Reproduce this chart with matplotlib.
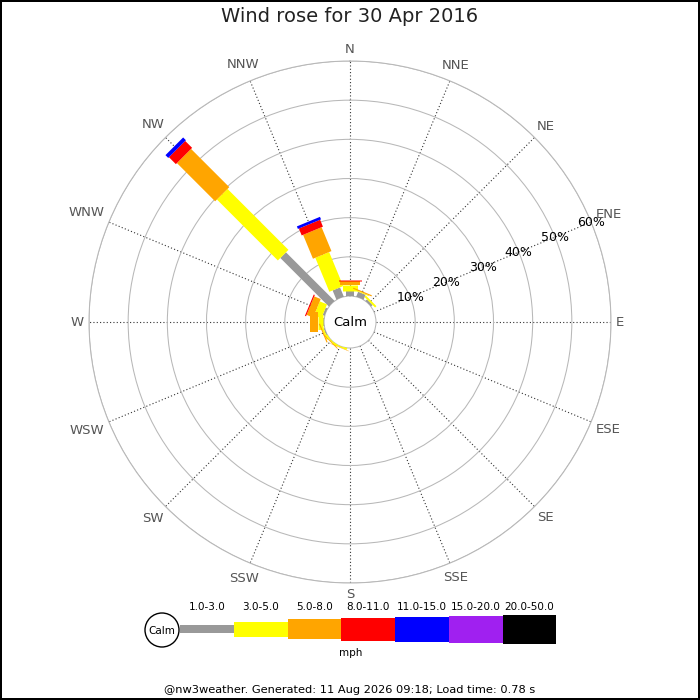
import numpy as np
import matplotlib
matplotlib.use('Agg')
import matplotlib.pyplot as plt
from matplotlib.patches import Circle

# ---------------- data ----------------
directions = ['N', 'NNE', 'NE', 'ENE', 'E', 'ESE', 'SE', 'SSE',
              'S', 'SSW', 'SW', 'WSW', 'W', 'WNW', 'NW', 'NNW']
speed_bins = ['1.0-3.0', '3.0-5.0', '5.0-8.0', '8.0-11.0',
              '11.0-15.0', '15.0-20.0', '20.0-50.0']
# percentage of time per direction, per speed bin (mph)
pct_1_3   = [1.35, 1.3, 0.5, 0, 0, 0, 0, 0, 0, 0,   0,   0.2, 0.3, 0.5, 17.5, 2.5]
pct_3_5   = [1.45, 0.2, 0.5, 0, 0, 0, 0, 0, 0, 0.3, 0.3, 0.4, 1.2, 2.0, 22.0, 9.4]
pct_5_8   = [1.0,  0.3, 0,   0, 0, 0, 0, 0, 0, 0.1, 0.2, 0.3, 2.1, 1.8, 13.8, 6.6]
pct_8_11  = [0.3,  0,   0,   0, 0, 0, 0, 0, 0, 0,   0,   0,   0,   0.3, 2.5,  1.9]
pct_11_15 = [0,    0,   0,   0, 0, 0, 0, 0, 0, 0,   0,   0,   0,   0,   1.0,  0.7]
pct_15_20 = [0] * 16
pct_20_50 = [0] * 16
ring_ticks = [10, 20, 30, 40, 50, 60]
title = 'Wind rose for 30 Apr 2016'
footer = '@nw3weather. Generated: 11 Aug 2026 09:18; Load time: 0.78 s'

series = [pct_1_3, pct_3_5, pct_5_8, pct_8_11, pct_11_15, pct_15_20, pct_20_50]
colors = ['#999999', '#ffff00', '#ffa500', '#ff0000', '#0000ff', '#a020f0', '#000000']
bar_px = [8, 15, 20, 23, 25, 27, 29]

# ---------------- figure ----------------
W = H = 700
fig = plt.figure(figsize=(7, 7), dpi=100, facecolor='white',
                 edgecolor='black', linewidth=1.5)
R = 261.0          # outer ring radius (px)
R0 = 26.0          # calm circle radius (px)
cx, cy = 350.0, 700 - 322.0
ax = fig.add_axes([(cx - R) / W, (cy - R) / H, 2 * R / W, 2 * R / H],
                  projection='polar')
ax.set_theta_zero_location('N')
ax.set_theta_direction(-1)
rmax = ring_ticks[-1]
rorigin = -rmax * R0 / (R - R0)
ax.set_ylim(0, rmax)
ax.set_rorigin(rorigin)

theta = np.deg2rad(np.arange(len(directions)) * 22.5)
ax.set_thetagrids(np.rad2deg(theta), labels=[''] * len(directions))
ax.set_rgrids(ring_ticks, labels=[''] * len(ring_ticks))
ax.xaxis.grid(True, linestyle=(0, (1, 2)), color='#333333', linewidth=0.8)
ax.yaxis.grid(True, linestyle='-', color='#b8b8b8', linewidth=0.75)
ax.tick_params(axis='both', length=0)
for s in ['polar', 'inner']:
    ax.spines[s].set_color('#b8b8b8')
    ax.spines[s].set_linewidth(0.75)

# stacked bars (rectangles of constant pixel width)
cum = np.zeros(len(directions))
for k, (vals, col, w) in enumerate(zip(series, colors, bar_px)):
    vals = np.asarray(vals, dtype=float)
    for i in range(len(directions)):
        if vals[i] <= 0:
            continue
        start = cum[i] if cum[i] > 0 else rorigin
        ax.plot([theta[i], theta[i]], [start, cum[i] + vals[i]],
                color=col, linewidth=w * 0.72, solid_capstyle='butt',
                zorder=3)
    cum += vals

# ring labels along ENE
ene = theta[directions.index('ENE')]
for r in ring_ticks:
    ax.text(ene, r, f'{r}%', ha='center', va='center', fontsize=9,
            color='black', zorder=6)

ax.text(0, rorigin, 'Calm', ha='center', va='center', fontsize=9.5,
        color='black', zorder=7)

# direction labels just outside the outer ring
fig.canvas.draw()
renderer = fig.canvas.get_renderer()
C = ax.transData.transform((0, rorigin))
for th, lab in zip(theta, directions):
    P = ax.transData.transform((th, rmax))
    u = (P - C) / np.hypot(*(P - C))
    t = fig.text(0, 0, lab, ha='center', va='center', fontsize=9.5,
                 color='#555555')
    bb = t.get_window_extent(renderer)
    ext = abs(u[0]) * bb.width / 2 + abs(u[1]) * bb.height / 2
    pos = P + u * (5 + ext)
    t.set_position(fig.transFigure.inverted().transform(pos))

# title & footer
fig.text(0.5, 1 - 17 / H, title, ha='center', va='center', fontsize=14,
         color='#222222')
fig.text(0.5, 1 - 690 / H, footer, ha='center', va='center', fontsize=8.2,
         color='black')

# ---------------- legend ----------------
lg = fig.add_axes([0, 0, 1, 1])
lg.set_xlim(0, W)
lg.set_ylim(H, 0)
lg.axis('off')
lg.patch.set_visible(False)
lg.add_patch(Circle((162, 630), 17, facecolor='white', edgecolor='black',
                    linewidth=1))
lg.text(162, 631, 'Calm', ha='center', va='center', fontsize=7.5)
seg_w = 53.7
x0 = 180.3
ymid = 629.2
for i, (lab, col, h) in enumerate(zip(speed_bins, colors, bar_px)):
    xc = x0 + seg_w * (i + 0.5)
    lg.bar(xc, h, width=seg_w, bottom=ymid - h / 2, color=col, linewidth=0)
    lg.text(xc, 607, lab, ha='center', va='center', fontsize=7.5)
lg.text(351, 653, 'mph', ha='center', va='center', fontsize=7.5)

fig.savefig('out.png', dpi=100, facecolor='white', edgecolor='black')
